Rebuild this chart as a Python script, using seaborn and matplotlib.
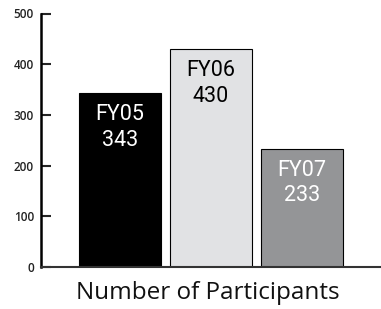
import matplotlib
matplotlib.use("Agg")
import matplotlib.pyplot as plt
import pandas as pd
import seaborn as sns

years = ["FY05", "FY06", "FY07"]
participants = [343, 430, 233]
bar_colors = ["#000000", "#e1e2e4", "#939598"]
text_colors = ["white", "black", "white"]
y_ticks = [0, 100, 200, 300, 400, 500]

sns.set_style("white")
plt.rcParams["font.family"] = ["Open Sans", "DejaVu Sans"]

df = pd.DataFrame({"year": years, "participants": participants})

fig = plt.figure(figsize=(3.81, 3.09), dpi=100)
ax = fig.add_axes([41 / 381, 1 - 267 / 309, 339 / 381, (267 - 13.5) / 309])

sns.barplot(data=df, x="year", y="participants", hue="year",
            palette=bar_colors, edgecolor="black", linewidth=0.8,
            width=0.9, legend=False, ax=ax)

# year and count written inside the top of each bar
for i, (yr, val) in enumerate(zip(years, participants)):
    ax.annotate(f"{yr}\n{val}", xy=(i, val), xytext=(0, -8),
                textcoords="offset points", ha="center", va="top",
                color=text_colors[i], fontsize=15.5, linespacing=1.28,
                family=["Roboto", "DejaVu Sans"])

ax.set_xlim(-0.868, 2.857)
ax.set_ylim(0, 500)
ax.set_yticks(y_ticks)
ax.set_yticklabels([str(t) for t in y_ticks], fontsize=8.5,
                   fontweight="semibold", color="#222222")
ax.set_xticks([])
ax.tick_params(axis="y", direction="in", length=7, width=1.5, pad=5, left=True)

sns.despine(ax=ax, top=True, right=True)
ax.spines["left"].set_linewidth(1.8)
ax.spines["left"].set_color("black")
ax.spines["bottom"].set_linewidth(1.5)
ax.spines["bottom"].set_color("#333333")

ax.set_xlabel("")
ax.set_ylabel("")
fig.text(208 / 381, 1 - 293 / 309, "Number of Participants", ha="center",
         va="center", fontsize=17.5, color="#111111")

fig.savefig("out.png", dpi=100)
